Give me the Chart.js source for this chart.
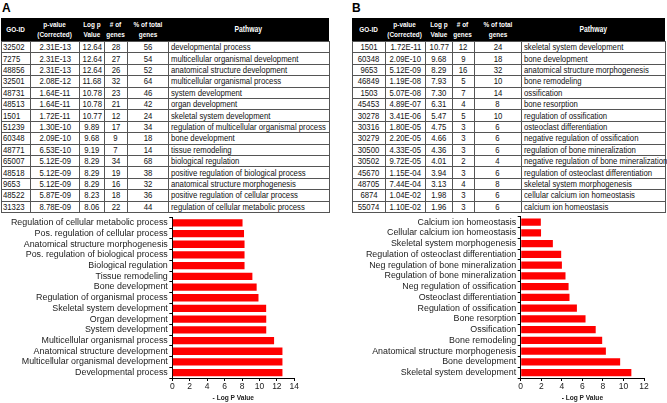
<!DOCTYPE html>
<html><head><meta charset="utf-8">
<script src="https://cdn.jsdelivr.net/npm/chart.js@4.4.0/dist/chart.umd.min.js"></script>
<style>
html,body{margin:0;padding:0;background:#fff;width:667px;height:403px;overflow:hidden;}
.panel{position:absolute;font:bold 12px "Liberation Sans",Arial,sans-serif;color:#000;}
.cell{position:absolute;box-sizing:border-box;white-space:nowrap;overflow:visible;font-family:"Liberation Sans",Arial,sans-serif;font-size:9px;color:#111;display:flex;align-items:center;justify-content:center;border:1px solid #555;}
.cell span{display:inline-block;transform:scaleX(0.86);transform-origin:center center;}
.left{justify-content:flex-start;padding-left:2px;}
.left span{transform-origin:left center;}
.hdr{background:#000;color:#fff;font-weight:bold;text-align:center;line-height:9.3px;font-size:8px;border:none;}
.hdr span{transform:scaleX(0.8);}
.wrap{position:absolute;}
</style></head>
<body>
<div class="panel" style="left:2px;top:1px">A</div>
<div class="panel" style="left:352px;top:1px">B</div>
<div id="tA"></div>
<div id="tB"></div>
<div class="wrap" style="left:0;top:210px;width:310px;height:193px"><canvas id="cA"></canvas></div>
<div class="wrap" style="left:340px;top:210px;width:327px;height:193px"><canvas id="cB"></canvas></div>
<script>
// ---------- Table headers ----------
const tableHeaders = ["GO-ID", "p-value<br>(Corrected)", "Log p<br>Value", "# of<br>genes", "% of total<br>genes", "Pathway"];

// ---------- Table A ----------
const goIdA = ["32502","7275","48856","32501","48731","48513","1501","51239","60348","48771","65007","48518","9653","48522","31323"];
const pValA = ["2.31E-13","2.31E-13","2.31E-13","2.08E-12","1.64E-11","1.64E-11","1.72E-11","1.30E-10","2.09E-10","6.53E-10","5.12E-09","5.12E-09","5.12E-09","5.87E-09","8.78E-09"];
const logPA = ["12.64","12.64","12.64","11.68","10.78","10.78","10.77","9.89","9.68","9.19","8.29","8.29","8.29","8.23","8.06"];
const genesA = ["28","27","26","32","23","21","12","17","9","7","34","19","16","18","22"];
const pctA = ["56","54","52","64","46","42","24","34","18","14","68","38","32","36","44"];
const pathwayA = ["developmental process","multicellular organismal development","anatomical structure development","multicellular organismal process","system development","organ development","skeletal system development","regulation of multicellular organismal process","bone development","tissue remodeling","biological regulation","positive regulation of biological process","anatomical structure morphogenesis","positive regulation of cellular process","regulation of cellular metabolic process"];

// ---------- Table B ----------
const goIdB = ["1501","60348","9653","46849","1503","45453","30278","30316","30279","30500","30502","45670","48705","6874","55074"];
const pValB = ["1.72E-11","2.09E-10","5.12E-09","1.19E-08","5.07E-08","4.89E-07","3.41E-06","1.80E-05","2.20E-05","4.33E-05","9.72E-05","1.15E-04","7.44E-04","1.04E-02","1.10E-02"];
const logPB = ["10.77","9.68","8.29","7.93","7.30","6.31","5.47","4.75","4.66","4.36","4.01","3.94","3.13","1.98","1.96"];
const genesB = ["12","9","16","5","7","4","5","3","3","3","2","3","4","3","3"];
const pctB = ["24","18","32","10","14","8","10","6","6","6","4","6","8","6","6"];
const pathwayB = ["skeletal system development","bone development","anatomical structure morphogenesis","bone remodeling","ossification","bone resorption","regulation of ossification","osteoclast differentiation","negative regulation of ossification","regulation of bone mineralization","negative regulation of bone mineralization","regulation of osteoclast differentiation","skeletal system morphogenesis","cellular calcium ion homeostasis","calcium ion homeostasis"];

// ---------- Chart A ----------
const chartLabelsA = ["Regulation of cellular metabolic process","Pos. regulation of cellular process","Anatomical structure morphogenesis","Pos. regulation of biological process","Biological regulation","Tissue remodeling","Bone development","Regulation of organismal process","Skeletal system development","Organ development","System development","Multicellular organismal process","Anatomical structure development","Multicellular organismal development","Developmental process"];
const chartValuesA = [8.06, 8.23, 8.29, 8.29, 8.29, 9.19, 9.68, 9.89, 10.77, 10.78, 10.78, 11.68, 12.64, 12.64, 12.64];
const xMaxA = 14;

// ---------- Chart B ----------
const chartLabelsB = ["Calcium ion homeostasis","Cellular calcium ion homeostasis","Skeletal system morphogenesis","Regulation of osteoclast differentiation","Neg regulation of bone mineralization","Regulation of bone mineralization","Neg regulation of ossification","Osteoclast differentiation","Regulation of ossification","Bone resorption","Ossification","Bone remodeling","Anatomical structure morphogenesis","Bone development","Skeletal system development"];
const chartValuesB = [1.96, 1.98, 3.13, 3.94, 4.01, 4.36, 4.66, 4.75, 5.47, 6.31, 7.30, 7.93, 8.29, 9.68, 10.77];
const xMaxB = 12;
const axisTitle = "- Log P Value";

function buildTable(id, edges, cols, goLeft) {
  const el = document.getElementById(id);
  const top = 18.3, hdrH = 22.7, rowH = 11.4;
  const L = edges[0], R = edges[edges.length - 1];
  const hb = document.createElement('div');
  hb.className = 'cell hdr';
  hb.style.cssText = `left:${L}px;top:${top}px;width:${R - L}px;height:${hdrH}px;`;
  el.appendChild(hb);
  tableHeaders.forEach((h, c) => {
    const d = document.createElement('div');
    d.className = 'cell hdr';
    d.style.cssText = `left:${edges[c]}px;top:${top}px;width:${edges[c+1]-edges[c]}px;height:${hdrH}px;` + (c === 5 ? 'font-size:8.5px;' : '');
    const s = document.createElement('span');
    s.innerHTML = h;
    d.appendChild(s);
    el.appendChild(d);
  });
  const n = cols[0].length;
  for (let r = 0; r < n; r++) {
    for (let c = 0; c < cols.length; c++) {
      const d = document.createElement('div');
      let cls = 'cell';
      if (c === 5 || (c === 0 && goLeft)) cls += ' left';
      d.className = cls;
      const y = top + hdrH + r * rowH;
      d.style.cssText = `left:${edges[c]}px;top:${y}px;width:${edges[c+1]-edges[c]+1}px;height:${rowH+1}px;` + (c===0&&goLeft?'padding-left:1px;':'');
      const s = document.createElement('span');
      s.textContent = cols[c][r];
      d.appendChild(s);
      el.appendChild(d);
    }
  }
}
buildTable('tA', [1, 30, 79, 104, 127, 168, 329], [goIdA, pValA, logPA, genesA, pctA, pathwayA], true);
buildTable('tB', [352, 385, 425, 452, 474, 521, 665], [goIdB, pValB, logPB, genesB, pctB, pathwayB], false);

const fam = '"Liberation Sans", Arial, sans-serif';
function makeChart(id, labels, values, xmax, yWidth, padTop, padRight) {
  return new Chart(document.getElementById(id), {
    type: 'bar',
    data: { labels: labels, datasets: [{ data: values, backgroundColor: '#ff0000', borderWidth: 0, barPercentage: 0.68, categoryPercentage: 1 }] },
    options: {
      indexAxis: 'y', responsive: true, maintainAspectRatio: false, animation: false,
      layout: { padding: { top: padTop, right: padRight, left: 0, bottom: 0 } },
      plugins: { legend: { display: false }, tooltip: { enabled: false } },
      scales: {
        x: {
          min: 0, max: xmax,
          ticks: { stepSize: 2, font: { family: fam, size: 8.5 }, color: '#222', padding: 1 },
          grid: { drawOnChartArea: false, drawTicks: true, tickLength: 3, color: '#000' },
          border: { color: '#000', width: 1 },
          title: { display: true, text: axisTitle, font: { family: fam, size: 6.6, weight: 'bold' }, color: '#222', padding: { top: 0, bottom: 1 } },
          afterFit(s) { s.height = 25; }
        },
        y: {
          ticks: { font: { family: fam, size: 8.9 }, color: '#222', padding: 1.5, autoSkip: false },
          grid: { drawOnChartArea: false, drawTicks: true, tickLength: 3, color: '#000' },
          border: { color: '#000', width: 1 },
          afterFit(s) { s.width = yWidth; }
        }
      }
    }
  });
}
makeChart('cA', chartLabelsA, chartValuesA, xMaxA, 172.3, 7.5, 15.7);
makeChart('cB', chartLabelsB, chartValuesB, xMaxB, 180.7, 6, 23);
</script>
</body></html>
